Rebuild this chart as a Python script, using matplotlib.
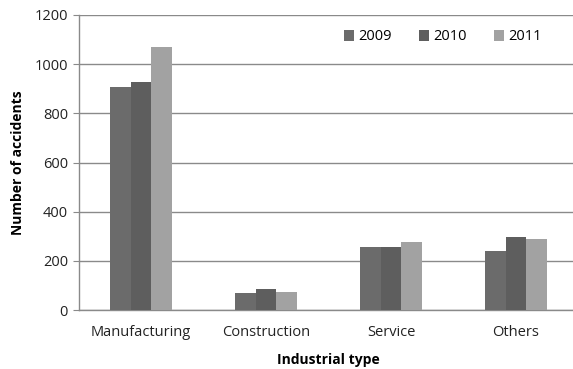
import matplotlib.pyplot as plt
import numpy as np

plt.rcParams['font.family'] = ['Open Sans', 'DejaVu Sans']

categories = ['Manufacturing', 'Construction', 'Service', 'Others']
years = ['2009', '2010', '2011']
acc_2009 = [908, 68, 256, 240]
acc_2010 = [926, 84, 256, 298]
acc_2011 = [1071, 73, 278, 288]
colors = ['#6b6b6b', '#5e5e5e', '#a2a2a2']

fig = plt.figure(figsize=(5.73, 3.69), dpi=100)
# axes runs slightly past the right edge, like the original
ax = fig.add_axes([78.5 / 573, 59 / 369, 500 / 573, 295 / 369])

x = np.arange(len(categories))
w = 0.165
for i, (vals, lab) in enumerate(zip([acc_2009, acc_2010, acc_2011], years)):
    ax.bar(x + (i - 1) * w, vals, w, color=colors[i], label=lab, zorder=3)

ax.set_xlim(-0.5, 3.5)
ax.set_ylim(0, 1200)
ax.set_yticks(range(0, 1201, 200))
ax.set_xticks(x)
ax.set_xticklabels(categories)
ax.yaxis.grid(True, color='#8a8a8a', linewidth=1.0, zorder=0)

for s in ['top', 'right']:
    ax.spines[s].set_visible(False)
ax.spines['left'].set_color('#8a8a8a')
ax.spines['bottom'].set_color('#8a8a8a')
ax.spines['left'].set_linewidth(1.0)
ax.spines['bottom'].set_linewidth(1.0)
ax.tick_params(axis='y', length=4, color='#8a8a8a', labelsize=10.5, labelcolor='#222222')
ax.tick_params(axis='x', length=0, pad=11, labelsize=10.5, labelcolor='#222222')

ax.set_ylabel('Number of accidents', fontsize=10, fontweight='bold', labelpad=7)
ax.set_xlabel('Industrial type', fontsize=10, fontweight='bold', labelpad=9)

ax.legend(loc='center left', bbox_to_anchor=(344 / 573, 1 - 37 / 369),
          bbox_transform=fig.transFigure, ncol=3, frameon=False,
          fontsize=10.5, handlelength=0.7, handleheight=0.7, handletextpad=0.25,
          columnspacing=1.9, borderpad=0, borderaxespad=0)

fig.savefig('out.png', dpi=100)
